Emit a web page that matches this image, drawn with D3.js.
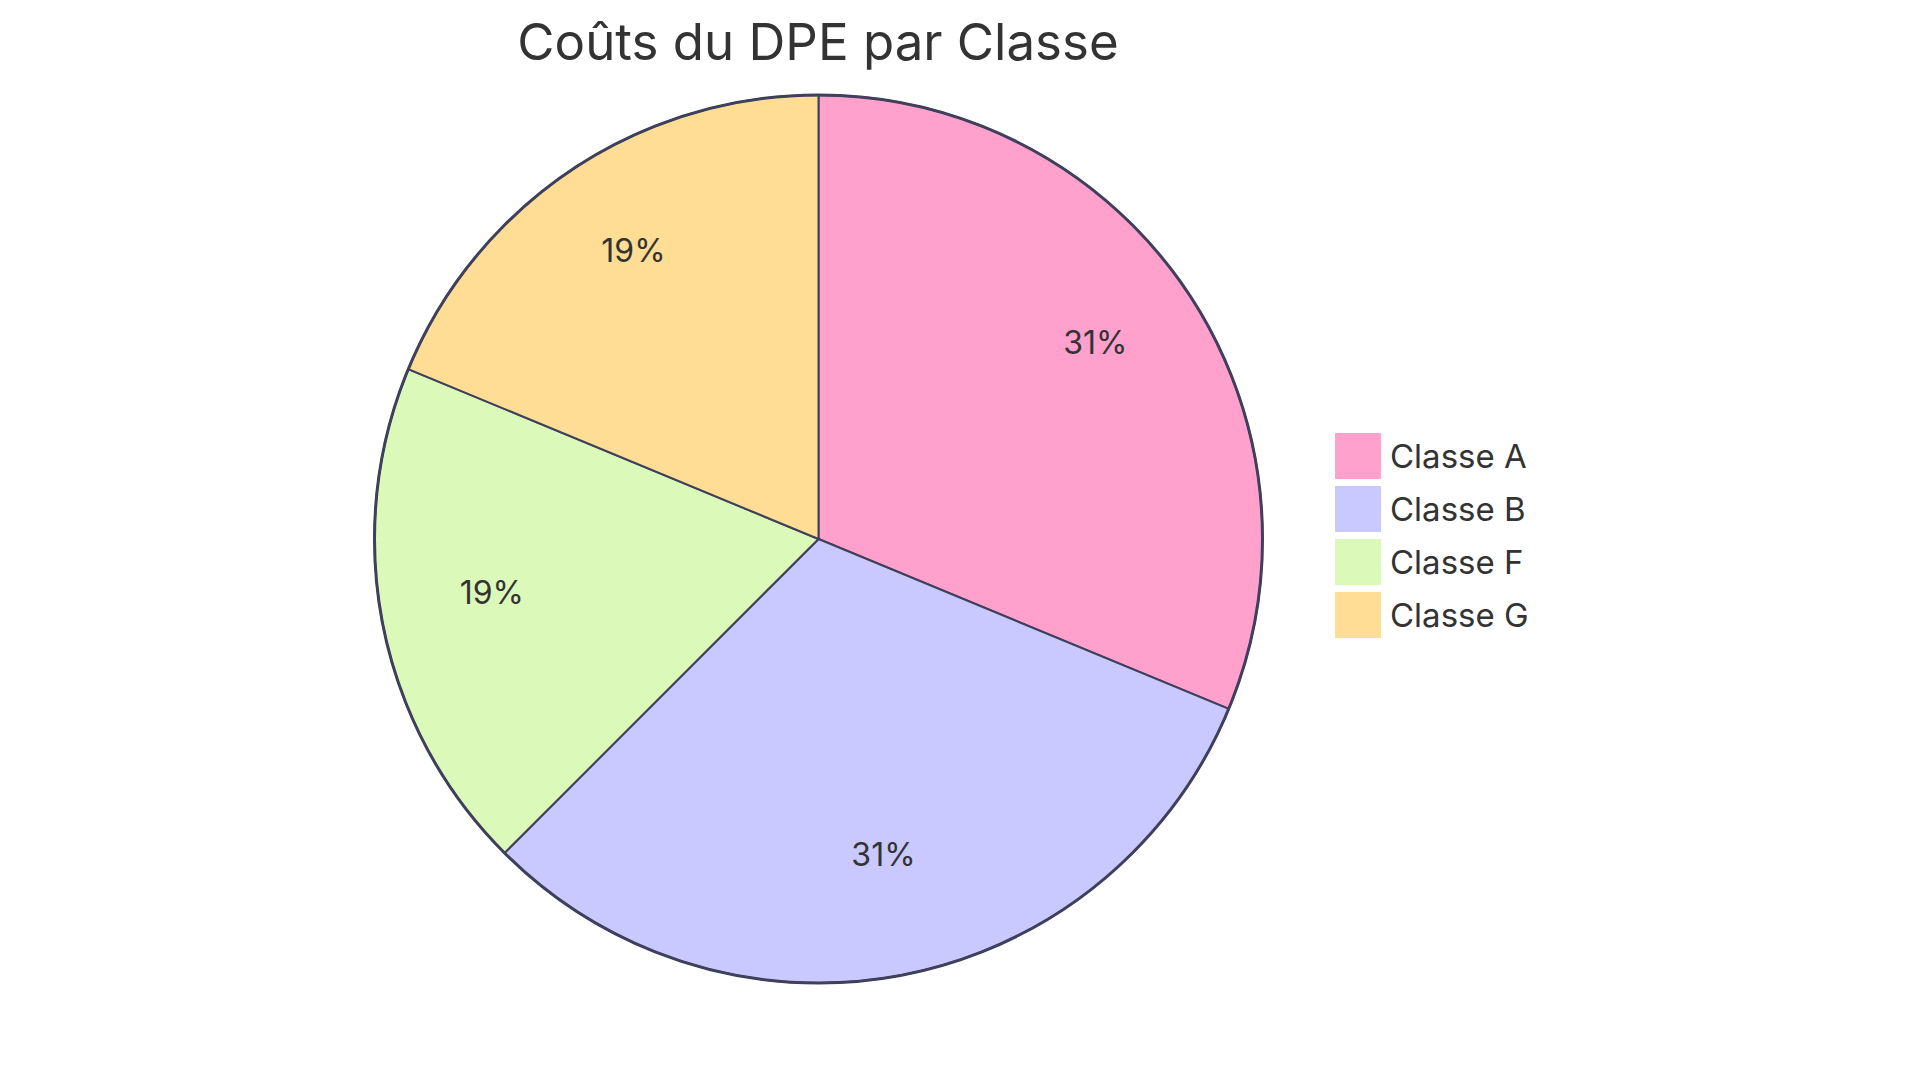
<!DOCTYPE html>
<html>
<head>
<meta charset="utf-8">
<script src="https://cdn.jsdelivr.net/npm/d3@7"></script>
<style>
  body { margin: 0; background: #fff; }
  text { font-family: Inter, "Noto Sans", sans-serif; fill: #333; }
</style>
</head>
<body>
<script>
// chart data
const title = "Coûts du DPE par Classe";
const categories = ["Classe A", "Classe B", "Classe F", "Classe G"];
const values = [250, 250, 150, 150];
const colors = ["#ffa1cc", "#c9c9ff", "#dbf9b9", "#ffdd94"];

const w = 1920;
const h = 1083;
const cx = 818.5, cy = 539, radius = 444;

const svg = d3.select("body")
              .append("svg")
              .attr("width", w)
              .attr("height", h);

const total = d3.sum(values);
const pie = d3.pie().sort(null).value(d => d)(values);
const arc = d3.arc().innerRadius(0).outerRadius(radius);
const labelArc = d3.arc().innerRadius(radius * 0.75).outerRadius(radius * 0.75);
const color = d3.scaleOrdinal().domain(categories).range(colors);

const g = svg.append("g").attr("transform", `translate(${cx},${cy})`);

g.selectAll("path.slice")
 .data(pie)
 .enter()
 .append("path")
 .attr("class", "slice")
 .attr("d", arc)
 .attr("fill", (d, i) => color(categories[i]))
 .attr("stroke", "#3e405c")
 .attr("stroke-width", 2);

// outer ring
g.append("circle")
 .attr("r", radius)
 .attr("fill", "none")
 .attr("stroke", "#3e405c")
 .attr("stroke-width", 3);

g.selectAll("text.pct")
 .data(pie)
 .enter()
 .append("text")
 .attr("class", "pct")
 .attr("transform", d => `translate(${labelArc.centroid(d)})`)
 .attr("text-anchor", "middle")
 .style("font-size", "32px")
 .text(d => Math.round(d.value / total * 100) + "%");

svg.append("text")
   .attr("x", 818)
   .attr("y", 60)
   .attr("text-anchor", "middle")
   .style("font-size", "51px")
   .text(title);

const legend = svg.selectAll("g.legend")
  .data(categories)
  .enter()
  .append("g")
  .attr("class", "legend")
  .attr("transform", (d, i) => `translate(1335,${433 + i * 53})`);

legend.append("rect")
  .attr("width", 46)
  .attr("height", 46)
  .attr("fill", d => color(d));

legend.append("text")
  .attr("x", 55)
  .attr("y", 35)
  .style("font-size", "33px")
  .text(d => d);
</script>
</body>
</html>
